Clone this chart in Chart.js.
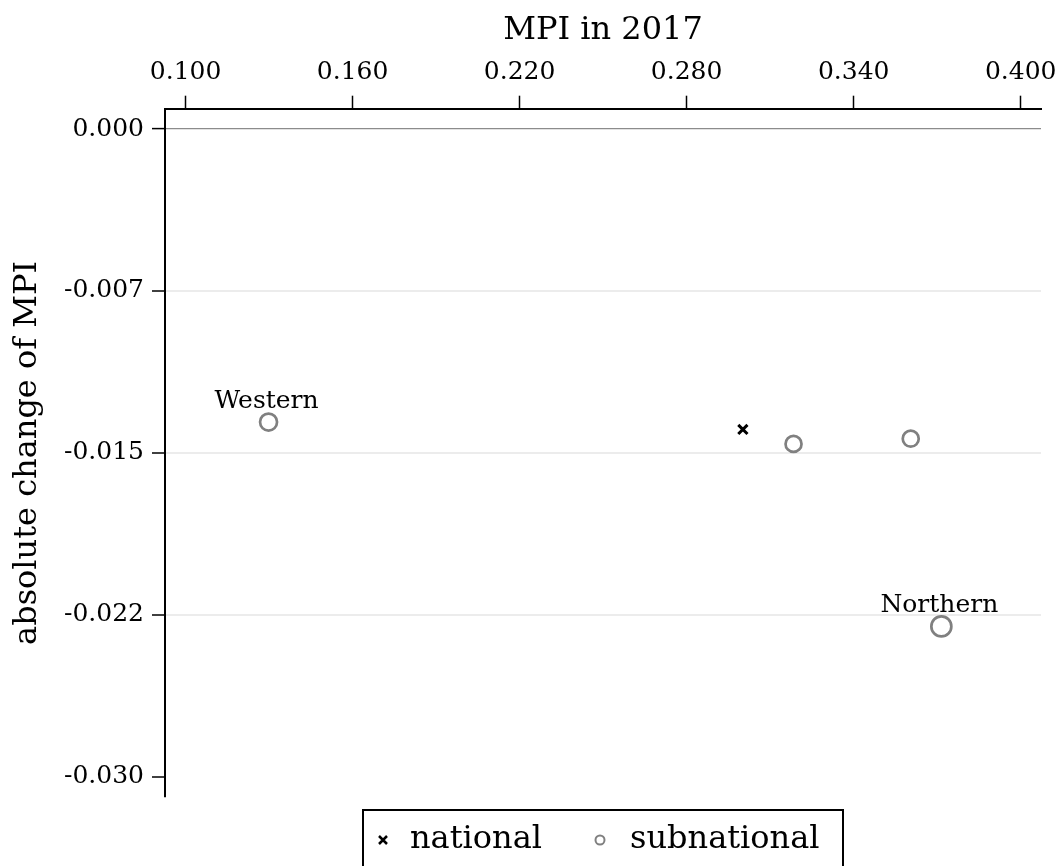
<!DOCTYPE html>
<html>
<head>
<meta charset="utf-8">
<script src="https://cdn.jsdelivr.net/npm/chart.js@4.4.0/dist/chart.umd.min.js"></script>
<style>
html,body{margin:0;padding:0;background:#fff;}
#wrap{width:1060px;height:866px;position:relative;}
</style>
</head>
<body>
<div id="wrap"><canvas id="c"></canvas></div>
<script>
// ---- data ----
const nationalX = [0.3002];
const nationalY = [-0.01391];
const subnationalNames = ['Western', '', '', 'Northern'];
const subnationalX = [0.1298, 0.3184, 0.3605, 0.3715];
const subnationalY = [-0.01357, -0.01458, -0.01434, -0.02303];
const xTickValues = [0.100, 0.160, 0.220, 0.280, 0.340, 0.400];
const xTickLabels = ['0.100', '0.160', '0.220', '0.280', '0.340', '0.400'];
const yTickValues = [0, -0.0075, -0.015, -0.0225, -0.030];
const yTickLabels = ['0.000', '-0.007', '-0.015', '-0.022', '-0.030'];
const seriesNames = ['national', 'subnational'];

// ---- style ----
const FONT = "'DejaVu Serif', serif";
const subRadius = [8.5, 8, 8, 10];
const GRAY = '#808080';

const labelPlugin = {
  id: 'pointLabels',
  afterDatasetsDraw(chart) {
    const ctx = chart.ctx;
    const meta = chart.getDatasetMeta(1);
    ctx.save();
    ctx.font = "25px " + FONT;
    ctx.fillStyle = '#000';
    ctx.textAlign = 'center';
    ctx.textBaseline = 'alphabetic';
    meta.data.forEach((pt, i) => {
      const name = subnationalNames[i];
      if (!name) return;
      ctx.fillText(name, pt.x - 2, pt.y - 14);
    });
    ctx.restore();
  }
};

const legendPlugin = {
  id: 'boxLegend',
  afterDraw(chart) {
    const ctx = chart.ctx;
    const ca = chart.chartArea;
    const cx = (ca.left + ca.right) / 2;
    const boxW = 480, boxTop = ca.bottom + 13, midY = boxTop + 30;
    const left = cx - boxW / 2;
    ctx.save();
    ctx.lineWidth = 2;
    ctx.strokeStyle = '#000';
    ctx.strokeRect(left, boxTop, boxW, 80);
    ctx.font = "32px " + FONT;
    ctx.fillStyle = '#000';
    ctx.textBaseline = 'middle';
    ctx.textAlign = 'left';
    const ds0 = chart.data.datasets[0], ds1 = chart.data.datasets[1];
    // national marker (x)
    let x = left + 20;
    ctx.lineWidth = 2.5;
    ctx.strokeStyle = ds0.borderColor;
    const r = 4;
    ctx.beginPath();
    ctx.moveTo(x - r, midY - r); ctx.lineTo(x + r, midY + r);
    ctx.moveTo(x - r, midY + r); ctx.lineTo(x + r, midY - r);
    ctx.stroke();
    ctx.fillText(ds0.label, x + 27, midY);
    // subnational marker (o)
    x = left + 237;
    ctx.lineWidth = 2;
    ctx.strokeStyle = GRAY;
    ctx.beginPath();
    ctx.arc(x, midY, 4.5, 0, Math.PI * 2);
    ctx.stroke();
    ctx.fillText(ds1.label, x + 30, midY);
    ctx.restore();
  }
};

new Chart(document.getElementById('c'), {
  type: 'scatter',
  data: {
    datasets: [
      {
        label: seriesNames[0],
        data: nationalX.map((v, i) => ({x: v, y: nationalY[i]})),
        pointStyle: 'crossRot',
        pointRadius: 6.5,
        pointHoverRadius: 6.5,
        borderWidth: 3,
        borderColor: '#000',
        backgroundColor: '#000'
      },
      {
        label: seriesNames[1],
        data: subnationalX.map((v, i) => ({x: v, y: subnationalY[i]})),
        pointStyle: 'circle',
        pointRadius: subRadius,
        pointHoverRadius: subRadius,
        borderWidth: 2.7,
        borderColor: GRAY,
        backgroundColor: 'rgba(255,255,255,0)'
      }
    ]
  },
  options: {
    responsive: true,
    maintainAspectRatio: false,
    animation: false,
    events: [],
    layout: {autoPadding: false, padding: {top: 0, left: 0, right: 19, bottom: 69}},
    plugins: {legend: {display: false}, tooltip: {enabled: false}},
    scales: {
      x: {
        type: 'linear',
        position: 'top',
        min: 0.0926,
        max: 0.4073,
        afterBuildTicks(s) { s.ticks = xTickValues.map(v => ({value: v})); },
        afterFit(s) { s.height = 108.7; s.paddingLeft = 0; s.paddingRight = 0; },
        ticks: {
          callback: (v, i) => xTickLabels[i],
          font: {family: FONT, size: 25},
          color: '#000',
          padding: 8,
          maxRotation: 0,
          autoSkip: false
        },
        grid: {drawOnChartArea: false, drawTicks: true, tickLength: 13, tickColor: '#000', tickWidth: 1.5},
        border: {display: true, color: '#000', width: 2},
        title: {display: true, text: 'MPI in 2017', font: {family: FONT, size: 32}, color: '#000', padding: {top: 11, bottom: 0}}
      },
      y: {
        type: 'linear',
        position: 'left',
        min: -0.03093,
        max: 0.00094,
        afterBuildTicks(s) { s.ticks = yTickValues.map(v => ({value: v})); },
        afterFit(s) { s.width = 165; s.paddingTop = 0; s.paddingBottom = 0; },
        ticks: {
          callback: (v, i) => yTickLabels[i],
          font: {family: FONT, size: 25},
          color: '#000',
          padding: 8,
          autoSkip: false
        },
        grid: {
          drawOnChartArea: true,
          drawTicks: true,
          tickLength: 13,
          tickColor: '#000',
          tickWidth: 1.5,
          color: (ctx) => {
            const v = ctx.tick ? ctx.tick.value : null;
            if (v === 0) return '#8c8c8c';
            if (v === -0.030) return 'rgba(0,0,0,0)';
            return '#ececec';
          },
          lineWidth: (ctx) => (ctx.tick && ctx.tick.value === 0) ? 1.2 : 2
        },
        border: {display: true, color: '#000', width: 2},
        title: {display: true, text: 'absolute change of MPI', font: {family: FONT, size: 32}, color: '#000', padding: {top: 8, bottom: 0}}
      }
    }
  },
  plugins: [labelPlugin, legendPlugin]
});
</script>
</body>
</html>
